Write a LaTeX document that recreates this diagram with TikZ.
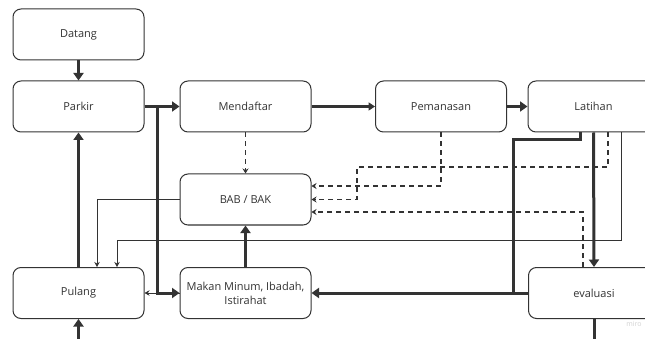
\documentclass[tikz,border=0pt]{standalone}
\usepackage{fontspec}
\setmainfont{Open Sans}
\usetikzlibrary{arrows.meta}
\definecolor{ln}{HTML}{333333}
\definecolor{tx}{HTML}{333333}
\begin{document}
\begin{tikzpicture}[x=1pt,y=-1pt,
 box/.style={draw=ln, line width=1pt, rounded corners=8pt, minimum width=131pt, minimum height=51pt, inner sep=0pt, font=\fontsize{11}{14}\selectfont, text=tx, align=center, fill=white},
 thickline/.style={line width=3pt, draw=ln},
 thickarr/.style={thickline, -{Triangle[length=7.5pt,width=10pt]}},
 medarr/.style={line width=2.2pt, draw=ln, -{Triangle[length=6.5pt,width=8pt]}},
 thinarr/.style={line width=0.9pt, draw=ln, -{Stealth[length=5pt,width=5.5pt]}},
 dasharr/.style={line width=1.3pt, draw=ln, dash pattern=on 5pt off 4pt, -{Stealth[length=5pt,width=6pt]}}]
\useasboundingbox (0,0) rectangle (645,339);
\clip (0,0) rectangle (645,339);
\fill[white] (0,0) rectangle (645,339);
% nodes
\node[box] (datang) at (78.5,34.5) {Datang};
\node[box] (parkir) at (78.5,106.5) {Parkir};
\node[box] (mendaftar) at (245.5,106.5) {Mendaftar};
\node[box] (pemanasan) at (441,106.5) {Pemanasan};
\node[box] (latihan) at (593.5,106.5) {Latihan};
\node[box] (bab) at (245.5,199.5) {BAB / BAK};
\node[box] (pulang) at (78.5,293) {Pulang};
\node[box] (makan) at (245.5,293) {Makan Minum, Ibadah,\\Istirahat};
\node[box] (eval) at (594,293) {evaluasi};
\node[text=gray!35, font=\fontsize{7}{8}\selectfont, inner sep=0pt] (miro) at (634,324) {miro};
\coordinate (bottomin) at (78.5,339);
\coordinate (bottomout) at (594,339);
\coordinate (j) at (513,293);
% thin connectors
\draw[thinarr] (makan) -- (pulang);
\draw[thinarr] (bab.west) -| ([xshift=18.5pt]pulang.north);
\draw[thinarr] ([xshift=27.5pt]latihan.south) -- ++(0,107.5) -| ([xshift=38.5pt]pulang.north);
% dashed connectors
\draw[dasharr] (mendaftar) -- (bab);
\draw[dasharr] (pemanasan.south) |- ([yshift=13.5pt]bab.east);
\draw[dasharr] ([xshift=14.5pt]latihan.south) |- (357,167) |- (bab.east);
\draw[dasharr] ([xshift=-11pt]eval.north) |- ([yshift=-12.5pt]bab.east);
% thick connectors
\draw[thickarr] (datang) -- (parkir);
\draw[thickarr] (parkir) -- (mendaftar);
\draw[thickarr] (parkir.east) -- ++(13,0) |- (makan.west);
\draw[thickarr] (pulang) -- (parkir);
\draw[thickarr] (bottomin) -- (pulang.south);
\draw[medarr] (mendaftar) -- (pemanasan);
\draw[thickarr] (pemanasan) -- (latihan);
\draw[thickarr] (makan) -- (bab);
\draw[thickarr] (latihan.south) -- (eval.north);
\draw[thickarr] ([xshift=-13.5pt]latihan.south) -- ++(0,7) -| (j) -- (makan.east);
\draw[thickline] (eval.west) -- (j);
\draw[thickline] (eval.south) -- (bottomout);
\end{tikzpicture}
\end{document}
